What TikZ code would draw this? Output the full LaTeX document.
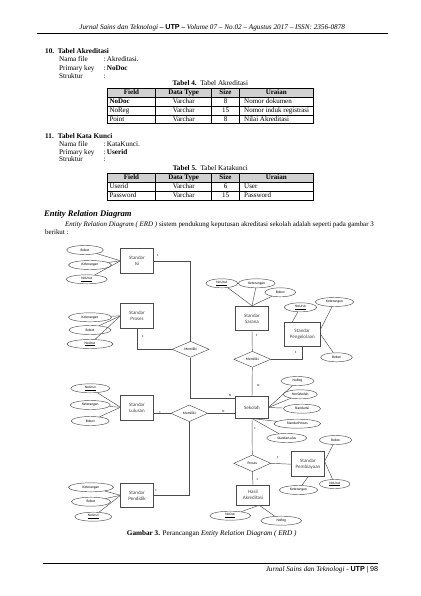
\documentclass[tikz,border=0pt]{standalone}
\usepackage{fontspec}
\setmainfont{Liberation Serif}
\setsansfont{Liberation Sans}
\newfontfamily\erdfont{Carlito}
\usetikzlibrary{shapes.geometric}

\tikzset{
  txt/.style={inner sep=0pt, anchor=west, text height=5pt, text depth=1.5pt, font=\fontsize{7.2}{8}\selectfont},
  cell/.style={inner sep=0pt, text height=5pt, text depth=1.5pt, font=\fontsize{7}{8}\selectfont},
  entity/.style={draw=black!70, line width=0.45pt, rectangle, minimum width=32.6pt, minimum height=25pt, align=center, inner sep=0pt, text=black!75, font=\erdfont\fontsize{5}{6}\selectfont},
  attr/.style={draw=black!70, line width=0.45pt, ellipse, minimum width=#1, minimum height=9pt, inner sep=0pt, font=\erdfont\fontsize{3.6}{4}\selectfont},
  attr/.default=37pt,
  rel/.style={draw=black!70, line width=0.45pt, diamond, minimum width=37pt, minimum height=16pt, inner sep=0pt, font=\erdfont\fontsize{3.6}{4}\selectfont},
  link/.style={draw=black!70, line width=0.45pt},
  card/.style={inner sep=0pt, font=\erdfont\fontsize{3.2}{4}\selectfont}
}

\begin{document}
\begin{tikzpicture}[x=1pt, y=-1pt]
   \useasboundingbox (0,0) rectangle (420,596);

   % header
   \node[txt, anchor=center] (head) at (212.2,27.3) {\itshape Jurnal Sains dan Teknologi \upshape\textbf{– {\sffamily UTP} –} \itshape Volume 07 – No.02 – Agustus 2017 – ISSN: 2356-0878};
   \draw[line width=0.8pt] (37.3,33.3) -- (388.3,33.3);

   % tabel akreditasi
   \node[txt] (nr10) at (45,52) {\textbf{10.}};
   \node[txt] (judul10) at (57.7,52) {\textbf{Tabel Akreditasi}};
   \node[txt] (nf10) at (59,59.3) {Nama file};
   \node[txt] (nfc10) at (103.3,59.3) {:};
   \node[txt] (nfv10) at (106.7,59.3) {Akreditasi.};
   \node[txt] (pk10) at (59,69) {Primary key};
   \node[txt] (pkc10) at (103.3,69) {:};
   \node[txt] (pkv10) at (106.7,69) {\textbf{NoDoc}};
   \node[txt] (st10) at (59,76.3) {Struktur};
   \node[txt] (stc10) at (103.3,76.3) {:};
   \node[txt, anchor=center] (cap4) at (210.3,84) {\textbf{Tabel 4.}\ \ Tabel Akreditasi};

   \fill[black!18] (107.3,88.7) rectangle (313.3,97.3);
   \draw[line width=0.6pt] (107.3,88.7) rectangle (313.3,123.7);
   \draw[line width=0.6pt] (107.3,97.3) -- (313.3,97.3);
   \draw[line width=0.6pt] (107.3,106.3) -- (313.3,106.3);
   \draw[line width=0.6pt] (107.3,115) -- (313.3,115);
   \draw[line width=0.6pt] (155.7,88.7) -- (155.7,123.7);
   \draw[line width=0.6pt] (211.7,88.7) -- (211.7,123.7);
   \draw[line width=0.6pt] (239.3,88.7) -- (239.3,123.7);

   \node[cell] (t4h1) at (131.5,93) {\textbf{Field}};
   \node[cell] (t4h2) at (183.7,93) {\textbf{Data Type}};
   \node[cell] (t4h3) at (225.5,93) {\textbf{Size}};
   \node[cell] (t4h4) at (276.3,93) {\textbf{Uraian}};
   \node[cell, anchor=west] (t4a1) at (109.3,101.8) {\textbf{NoDoc}};
   \node[cell] (t4a2) at (183.7,101.8) {Varchar};
   \node[cell] (t4a3) at (225.5,101.8) {8};
   \node[cell, anchor=west] (t4a4) at (244,101.8) {Nomor dokumen};
   \node[cell, anchor=west] (t4b1) at (109.3,110.7) {NoReg};
   \node[cell] (t4b2) at (183.7,110.7) {Varchar};
   \node[cell] (t4b3) at (225.5,110.7) {15};
   \node[cell, anchor=west] (t4b4) at (244,110.7) {Nomor induk registrasi};
   \node[cell, anchor=west] (t4c1) at (109.3,119.3) {Point};
   \node[cell] (t4c2) at (183.7,119.3) {Varchar};
   \node[cell] (t4c3) at (225.5,119.3) {8};
   \node[cell, anchor=west] (t4c4) at (244,119.3) {Nilai Akreditasi};

   % tabel kata kunci
   \node[txt] (nr11) at (45,136.7) {\textbf{11.}};
   \node[txt] (judul11) at (57.7,136.7) {\textbf{Tabel Kata Kunci}};
   \node[txt] (nf11) at (59,145) {Nama file};
   \node[txt] (nfc11) at (103.3,145) {:};
   \node[txt] (nfv11) at (106.7,145) {KataKunci.};
   \node[txt] (pk11) at (59,152.7) {Primary key};
   \node[txt] (pkc11) at (103.3,152.7) {:};
   \node[txt] (pkv11) at (106.7,152.7) {\textbf{Userid}};
   \node[txt] (st11) at (59,160) {Struktur};
   \node[txt] (stc11) at (103.3,160) {:};
   \node[txt, anchor=center] (cap5) at (210.3,169) {\textbf{Tabel 5.}\ \ Tabel Katakunci};

   \fill[black!18] (107.3,173.3) rectangle (313.3,182.3);
   \draw[line width=0.6pt] (107.3,173.3) rectangle (313.3,200.7);
   \draw[line width=0.6pt] (107.3,182.3) -- (313.3,182.3);
   \draw[line width=0.6pt] (107.3,191.5) -- (313.3,191.5);
   \draw[line width=0.6pt] (155.7,173.3) -- (155.7,200.7);
   \draw[line width=0.6pt] (211.7,173.3) -- (211.7,200.7);
   \draw[line width=0.6pt] (239.3,173.3) -- (239.3,200.7);

   \node[cell] (t5h1) at (131.5,177.8) {\textbf{Field}};
   \node[cell] (t5h2) at (183.7,177.8) {\textbf{Data Type}};
   \node[cell] (t5h3) at (225.5,177.8) {\textbf{Size}};
   \node[cell] (t5h4) at (276.3,177.8) {\textbf{Uraian}};
   \node[cell, anchor=west] (t5a1) at (109.3,186.9) {Userid};
   \node[cell] (t5a2) at (183.7,186.9) {Varchar};
   \node[cell] (t5a3) at (225.5,186.9) {6};
   \node[cell, anchor=west] (t5a4) at (244,186.9) {User};
   \node[cell, anchor=west] (t5b1) at (109.3,196.1) {Password};
   \node[cell] (t5b2) at (183.7,196.1) {Varchar};
   \node[cell] (t5b3) at (225.5,196.1) {15};
   \node[cell, anchor=west] (t5b4) at (244,196.1) {Password};

   % erd teks
   \node[txt, text height=6pt, text depth=2pt, font=\fontsize{8.6}{9}\selectfont] (erdjudul) at (44,214) {\textbf{\textit{Entity Relation Diagram}}};
   \node[txt, font=\fontsize{6.95}{8}\selectfont] (par1) at (65,224.3) {\textit{Entity Relation Diagram ( ERD )} sistem pendukung keputusan akreditasi sekolah adalah seperti pada gambar 3};
   \node[txt, font=\fontsize{6.95}{8}\selectfont] (par2) at (45,232.3) {berikut :};

   % entitas
   \node[entity] (stdIsi) at (137,260.8) {Standar\\Isi};
   \node[entity] (stdProses) at (137,315.8) {Standar\\Proses};
   \node[entity] (stdLulusan) at (137,407.3) {Standar\\Lulusan};
   \node[entity, minimum height=24pt] (stdPendidik) at (137,495.3) {Standar\\Pendidik};
   \node[entity, minimum height=24.7pt] (stdSarana) at (252,318.3) {Standar\\Sarana};
   \node[entity, minimum width=36pt, minimum height=23.7pt] (stdKelola) at (302.3,334.2) {Standar\\Pengelolaan};
   \node[entity, minimum height=21.6pt] (sekolah) at (252,407.5) {Sekolah};
   \node[entity] (stdBiaya) at (308,464.2) {Standar\\Pembiayaan};
   \node[entity, minimum height=20pt] (hasil) at (253,495) {Hasil\\Akreditasi};

   % relasi
   \node[rel] (relIsi) at (190.6,349.3) {Memiliki};
   \node[rel, minimum height=16.7pt] (relLulus) at (189.3,413.3) {Memiliki};
   \node[rel] (relSarana) at (252.3,359.3) {Memiliki};
   \node[rel, minimum height=16.7pt] (relProses) at (252.3,463.3) {Proses};

   % atribut
   \node[attr=36.7pt] (isiBobot) at (85,250) {Bobot};
   \node[attr=43pt] (isiKet) at (90,265) {Keterangan};
   \node[attr=41pt] (isiNo) at (86.7,279.3) {\underline{NoUrut}};

   \node[attr=43pt] (prsKet) at (90,317.3) {Keterangan};
   \node[attr=42pt] (prsBobot) at (90,330) {Bobot};
   \node[attr=46pt] (prsNo) at (90,344) {\underline{NoUrut}};

   \node[attr=39pt] (llsNo) at (90.3,388.3) {\underline{NoUrut}};
   \node[attr=40pt] (llsKet) at (90.3,405) {Keterangan};
   \node[attr=38pt] (llsBobot) at (90.3,421) {Bobot};

   \node[attr=45pt] (pddKet) at (91,487.3) {Keterangan};
   \node[attr=39pt] (pddBobot) at (91,501.7) {Bobot};
   \node[attr=37pt] (pddNo) at (93.3,516.7) {\underline{NoUrut}};

   \node[attr=31.7pt] (srnNo) at (221.8,283.3) {\underline{NoUrut}};
   \node[attr=36.7pt] (srnKet) at (256.7,283.3) {Keterangan};
   \node[attr=30.7pt] (srnBobot) at (280.3,292.3) {Bobot};

   \node[attr=32.3pt] (klNo) at (300.5,307.3) {\underline{NoUrut}};
   \node[attr=38.3pt] (klKet) at (334.5,302) {Keterangan};
   \node[attr=31.7pt] (klBobot) at (336.5,357.3) {Bobot};

   \node[attr=33pt] (skNoReg) at (297.5,381) {NoReg};
   \node[attr=34pt] (skNama) at (300.3,394.3) {NmSekolah};
   \node[attr=37pt] (skIsi) at (302,408.7) {StandarIsi};
   \node[attr=46.7pt] (skProses) at (297.3,423.7) {StandarProses};
   \node[attr=40pt] (skLulus) at (286.7,438) {StandarLulus};

   \node[attr=32.3pt] (byBobot) at (335.5,440) {Bobot};
   \node[attr=30.7pt] (byNo) at (334.7,484) {\underline{NoUrut}};
   \node[attr=38.3pt] (byKet) at (298.5,490) {Keterangan};

   \node[attr=40.7pt] (hsNoDoc) at (230.3,515.7) {\underline{NoDoc}};
   \node[attr=40.7pt] (hsNoReg) at (281.3,520.7) {NoReg};

   % garis atribut
   \draw[link] (isiBobot) -- (stdIsi.west);
   \draw[link] (isiKet) -- (stdIsi.west);
   \draw[link] (isiNo) -- (stdIsi.west);
   \draw[link] (prsKet) -- (stdProses.west);
   \draw[link] (prsBobot) -- (stdProses.west);
   \draw[link] (prsNo) -- (stdProses.west);
   \draw[link] (llsNo) -- (stdLulusan.west);
   \draw[link] (llsKet) -- (stdLulusan.west);
   \draw[link] (llsBobot) -- (stdLulusan.west);
   \draw[link] (pddKet) -- (stdPendidik.west);
   \draw[link] (pddBobot) -- (stdPendidik.west);
   \draw[link] (pddNo) -- (stdPendidik.west);
   \draw[link] (srnNo) -- (stdSarana.north);
   \draw[link] (srnKet) -- (stdSarana.north);
   \draw[link] (srnBobot) -- (stdSarana.north);
   \draw[link] (klNo) -- (stdKelola.130);
   \draw[link] (klKet) -- (stdKelola.15);
   \draw[link] (klBobot) -- (stdKelola.east);
   \draw[link] (skNoReg) -- (sekolah.east);
   \draw[link] (skNama) -- (sekolah.east);
   \draw[link] (skIsi) -- (sekolah.east);
   \draw[link] (skProses) -- (sekolah.south);
   \draw[link] (skLulus) -- (sekolah.south);
   \draw[link] (byBobot) -- (stdBiaya.10);
   \draw[link] (byNo) -- (stdBiaya.10);
   \draw[link] (byKet) -- (stdBiaya.south);
   \draw[link] (hsNoDoc) -- (hasil.-59);
   \draw[link] (hsNoReg) -- (hasil.-59);

   % garis relasi
   \coordinate (sekAtas) at ([yshift=-1.6pt]sekolah.north west);
   \draw[link] (stdIsi.east) -| (relIsi.north);
   \draw[link] (stdProses.south) |- (relIsi.west);
   \draw[link] (relIsi.south) |- (sekAtas);
   \draw[link] (relLulus.west -| stdLulusan.east) -- (relLulus.west);
   \draw[link] (relLulus.east) -- (relLulus.east -| sekolah.west);
   \draw[link] (relLulus.south) |- (stdPendidik.east);
   \draw[link] (stdSarana.south) -- (relSarana.north);
   \draw[link] (relSarana.east) -| (stdKelola.south);
   \draw[link] (relSarana.south) -- (sekolah.north);
   \draw[link] (sekolah.south) -- (relProses.north);
   \draw[link] (relProses.east) -- (stdBiaya.west);
   \draw[link] (relProses.south) -- (hasil.north);

   % kardinalitas
   \node[card] (c1) at (157.7,255) {1};
   \node[card] (c2) at (142.7,336.7) {1};
   \node[card] (c3) at (230,395.7) {N};
   \node[card] (c4) at (160,412.3) {1};
   \node[card] (c5) at (223.3,411.7) {N};
   \node[card] (c6) at (156,490) {1};
   \node[card] (c7) at (256.7,335) {1};
   \node[card] (c8) at (295.7,352.3) {1};
   \node[card] (c9) at (258.3,385.7) {N};
   \node[card] (c10) at (255,428.3) {1};
   \node[card] (c11) at (277.7,457.7) {1};
   \node[card] (c12) at (257.3,479) {1};

   % caption dan footer
   \node[txt, anchor=center] (gambar3) at (211.7,534) {\textbf{Gambar 3.} Perancangan \textit{Entity Relation Diagram ( ERD )}};
   \draw[line width=0.8pt] (43.3,563.3) -- (378.3,563.3);
   \node[txt, anchor=east] (foot) at (378.3,569.3) {\itshape Jurnal Sains dan Teknologi \upshape - \textbf{\sffamily UTP} \textbf{|} {\sffamily 98}};

\end{tikzpicture}
\end{document}
